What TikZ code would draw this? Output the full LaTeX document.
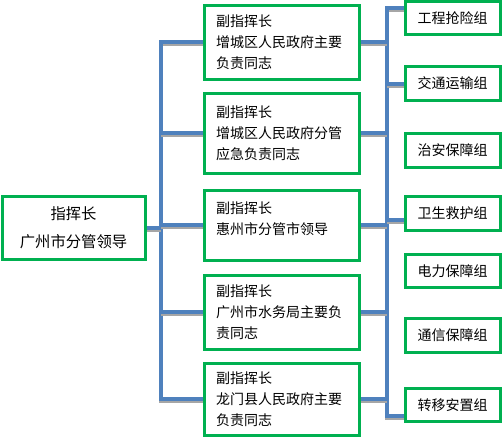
\documentclass[tikz,border=0pt]{standalone}
\usepackage{fontspec}
\setmainfont{Noto Sans CJK SC}
\usepackage{xcolor}
\definecolor{cLink}{HTML}{4F81BD}
\definecolor{cBox}{HTML}{00B050}
\definecolor{cShade}{HTML}{A6A6A6}
\usepackage{tikz}
\usetikzlibrary{positioning,calc}
\tikzset{
  node-lead/.style={draw=cBox,line width=2.25pt,minimum width=107.25pt,
    minimum height=47.25pt,align=center,
    font=\fontsize{11.5pt}{21pt}\selectfont},
  node-vice/.style={draw=cBox,line width=2.25pt,text width=98.25pt,
    inner xsep=9pt,align=left,font=\fontsize{10.5pt}{15.75pt}\selectfont},
  node-group/.style={draw=cBox,line width=2.25pt,minimum width=71.25pt,
    minimum height=25pt,align=center,font=\fontsize{10.5pt}{12pt}\selectfont},
  % 蓝色连线，下方带一道灰色阴影
  link/.style={draw=cLink,line width=3pt,
    preaction={draw=cShade,line width=3pt,transform canvas={yshift=-1.5pt}}},
}

\begin{document}
\begin{tikzpicture}[x=0.75pt,y=-0.75pt]
  \useasboundingbox (0,0) rectangle (503,436);
  % 总指挥
  \node[node-lead] (lead) at (73.5,227.5) {指挥长\\广州市分管领导};
  % 副指挥长
  \node[node-vice,minimum height=55.5pt] (v1) at (281.5,42)
    {副指挥长\\增城区人民政府主要\\负责同志};
  \node[node-vice,minimum height=60pt] (v2) at (281.5,133)
    {副指挥长\\增城区人民政府分管\\应急负责同志};
  \node[node-vice,minimum height=52.5pt] (v3) at (281.5,225)
    {副指挥长\\惠州市分管市领导\\[-5.5pt]\mbox{}};
  \node[node-vice,minimum height=55.5pt] (v4) at (281.5,312)
    {副指挥长\\广州市水务局主要负\\责同志};
  \node[node-vice,minimum height=54pt] (v5) at (281.5,399)
    {副指挥长\\龙门县人民政府主要\\负责同志};
  % 工作组
  \node[node-group] (g1) at (452.5,18) {工程抢险组};
  \node[node-group] (g2) at (452.5,83.5) {交通运输组};
  \node[node-group] (g3) at (452.5,150.5) {治安保障组};
  \node[node-group] (g4) at (452.5,213.5) {卫生救护组};
  \node[node-group] (g5) at (452.5,271) {电力保障组};
  \node[node-group] (g6) at (452.5,335.5) {通信保障组};
  \node[node-group] (g7) at (452.5,405) {转移安置组};
  \coordinate (bus-left) at (161,0);
  \coordinate (bus-top) at (387,8);
  \coordinate (bus-bot) at (387,416);
  % 左侧总线
  \draw[link] (v1.west) -- (v1.west -| bus-left) |- (v5.west);
  \draw[link] (lead.east) -- (lead.east -| bus-left);
  \foreach \v in {v2,v3,v4}
    \draw[link] (\v.west -| bus-left) -- (\v.west);
  % 右侧总线
  \draw[link] (g1.west |- bus-top) -- (bus-top) -- (bus-bot) -- (g7.west |- bus-bot);
  \foreach \v in {v1,v2,v3,v4,v5}
    \draw[link] (\v.east) -- (\v.east -| bus-top);
  \draw[link] (g2.west -| bus-top) -- (g2.west);
  \draw[link] ([yshift=-5pt]g4.west -| bus-top) -- ([yshift=-5pt]g4.west);
\end{tikzpicture}
\end{document}
